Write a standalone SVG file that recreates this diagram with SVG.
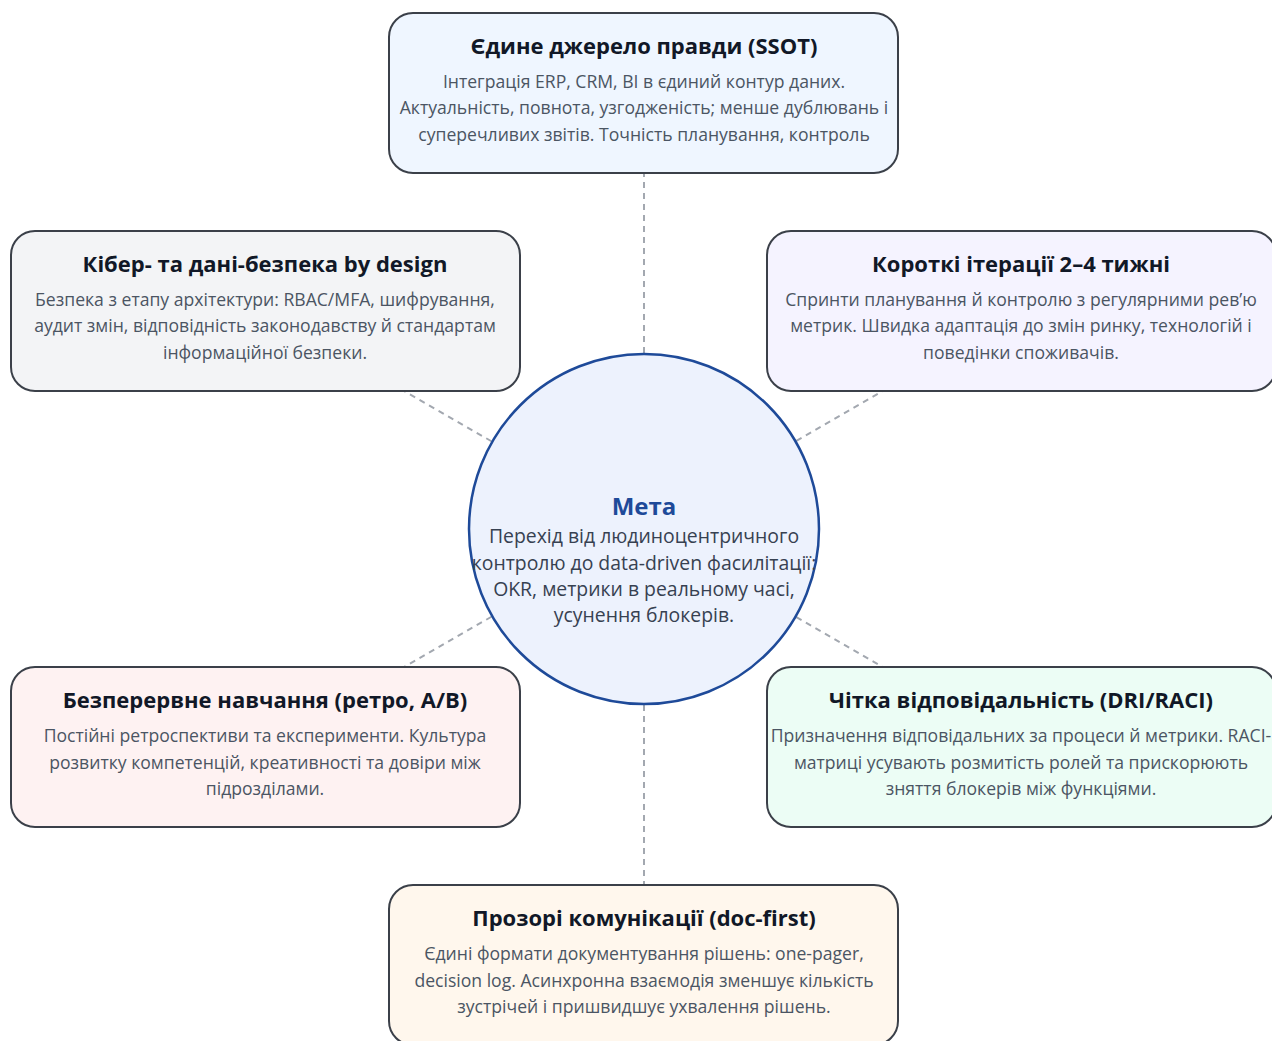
<svg xmlns="http://www.w3.org/2000/svg" width="1272" height="1041" viewBox="0 0 1272 1041">
  <style>
    .card { stroke: #3b4049; stroke-width: 2; }
    .title { font-family: "Open Sans", "Noto Sans", sans-serif; font-weight: 700; font-size: 22px; fill: #111827; text-anchor: middle; }
    .body { font-family: "Open Sans", "Noto Sans", sans-serif; font-size: 17.6px; fill: #4b5563; text-anchor: middle; }
    .link { stroke: #a3a8b0; stroke-width: 2; stroke-dasharray: 6 5; fill: none; }
    .hub { fill: #edf2fd; stroke: #1e4a99; stroke-width: 2.5; }
    .hub-title { font-family: "Open Sans", "Noto Sans", sans-serif; font-weight: 700; font-size: 24px; fill: #1e4a99; text-anchor: middle; }
    .hub-body { font-family: "Open Sans", "Noto Sans", sans-serif; font-size: 19.4px; fill: #374151; text-anchor: middle; }
  </style>

  <rect width="1272" height="1041" fill="#ffffff"/>

  <!-- dashed spokes from the hub to every card -->
  <g id="connectors">
    <line class="link" x1="644" y1="529" x2="644" y2="93"/>
    <line class="link" x1="644" y1="529" x2="265" y2="311"/>
    <line class="link" x1="644" y1="529" x2="1021" y2="311"/>
    <line class="link" x1="644" y1="529" x2="265" y2="747"/>
    <line class="link" x1="644" y1="529" x2="1021" y2="747"/>
    <line class="link" x1="644" y1="529" x2="644" y2="965"/>
  </g>

  <g id="node-ssot">
    <rect class="card" x="389" y="13" width="509" height="160" rx="24" fill="#eff6ff"/>
    <text class="title" x="644" y="54">Єдине джерело правди (SSOT)</text>
    <text class="body" x="644" y="88">Інтеграція ERP, CRM, BI в єдиний контур даних.</text>
    <text class="body" x="644" y="114">Актуальність, повнота, узгодженість; менше дублювань і</text>
    <text class="body" x="644" y="141">суперечливих звітів. Точність планування, контроль</text>
  </g>

  <g id="node-security">
    <rect class="card" x="11" y="231" width="509" height="160" rx="24" fill="#f3f4f6"/>
    <text class="title" x="265" y="272">Кібер- та дані-безпека by design</text>
    <text class="body" x="265" y="306">Безпека з етапу архітектури: RBAC/MFA, шифрування,</text>
    <text class="body" x="265" y="332">аудит змін, відповідність законодавству й стандартам</text>
    <text class="body" x="265" y="359">інформаційної безпеки.</text>
  </g>

  <g id="node-iterations">
    <rect class="card" x="767" y="231" width="509" height="160" rx="24" fill="#f5f3ff"/>
    <text class="title" x="1021" y="272">Короткі ітерації 2–4 тижні</text>
    <text class="body" x="1021" y="306">Спринти планування й контролю з регулярними рев’ю</text>
    <text class="body" x="1021" y="332">метрик. Швидка адаптація до змін ринку, технологій і</text>
    <text class="body" x="1021" y="359">поведінки споживачів.</text>
  </g>

  <g id="node-learning">
    <rect class="card" x="11" y="667" width="509" height="160" rx="24" fill="#fef2f2"/>
    <text class="title" x="265" y="708">Безперервне навчання (ретро, A/B)</text>
    <text class="body" x="265" y="742">Постійні ретроспективи та експерименти. Культура</text>
    <text class="body" x="265" y="769">розвитку компетенцій, креативності та довіри між</text>
    <text class="body" x="265" y="795">підрозділами.</text>
  </g>

  <g id="node-ownership">
    <rect class="card" x="767" y="667" width="509" height="160" rx="24" fill="#ecfdf5"/>
    <text class="title" x="1021" y="708">Чітка відповідальність (DRI/RACI)</text>
    <text class="body" x="1021" y="742">Призначення відповідальних за процеси й метрики. RACI-</text>
    <text class="body" x="1021" y="769">матриці усувають розмитість ролей та прискорюють</text>
    <text class="body" x="1021" y="795">зняття блокерів між функціями.</text>
  </g>

  <g id="node-communication">
    <rect class="card" x="389" y="885" width="509" height="160" rx="24" fill="#fff7ed"/>
    <text class="title" x="644" y="926">Прозорі комунікації (doc-first)</text>
    <text class="body" x="644" y="960">Єдині формати документування рішень: one-pager,</text>
    <text class="body" x="644" y="987">decision log. Асинхронна взаємодія зменшує кількість</text>
    <text class="body" x="644" y="1013">зустрічей і пришвидшує ухвалення рішень.</text>
  </g>

  <g id="node-goal">
    <circle class="hub" cx="644" cy="529" r="175"/>
    <text class="hub-title" x="644" y="515">Мета</text>
    <text class="hub-body" x="644" y="543">Перехід від людиноцентричного</text>
    <text class="hub-body" x="644" y="570">контролю до data-driven фасилітації:</text>
    <text class="hub-body" x="644" y="596">OKR, метрики в реальному часі,</text>
    <text class="hub-body" x="644" y="622">усунення блокерів.</text>
  </g>
</svg>
